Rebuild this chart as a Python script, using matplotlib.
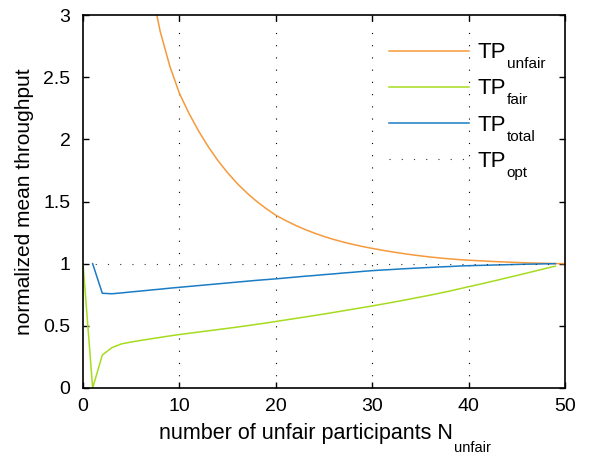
import matplotlib
matplotlib.use("Agg")
import matplotlib.pyplot as plt
from matplotlib.transforms import IdentityTransform
from matplotlib.font_manager import FontProperties

plt.rcParams['font.family'] = ['Liberation Sans', 'DejaVu Sans']

# values
n_unfair = list(range(1, 51))
tp_unfair = [50.0, 12.9, 8.0, 5.8, 4.56, 3.79, 3.25, 2.87, 2.59, 2.37,
             2.208, 2.066, 1.940, 1.829, 1.731, 1.645, 1.569, 1.502, 1.443, 1.390,
             1.348, 1.310, 1.276, 1.246, 1.219, 1.195, 1.174, 1.155, 1.138, 1.123,
             1.109, 1.096, 1.084, 1.073, 1.063, 1.054, 1.046, 1.039, 1.033, 1.028,
             1.024, 1.020, 1.016, 1.013, 1.010, 1.007, 1.005, 1.003, 1.001, 1.0]

n_fair = list(range(0, 50))
tp_fair = [1.0, 0.0, 0.265, 0.325, 0.355, 0.370, 0.383, 0.395, 0.407, 0.419,
           0.430, 0.440, 0.450, 0.460, 0.470, 0.480, 0.490, 0.501, 0.512, 0.523,
           0.535, 0.547, 0.559, 0.571, 0.583, 0.595, 0.608, 0.621, 0.634, 0.647,
           0.660, 0.674, 0.688, 0.702, 0.717, 0.732, 0.747, 0.763, 0.779, 0.797,
           0.815, 0.832, 0.850, 0.868, 0.887, 0.905, 0.924, 0.943, 0.962, 0.980]

n_total = list(range(1, 50))
tp_total = [1.0, 0.762, 0.758, 0.765, 0.773, 0.780, 0.788, 0.795, 0.803, 0.810,
            0.817, 0.824, 0.831, 0.838, 0.845, 0.852, 0.859, 0.866, 0.872, 0.878,
            0.885, 0.892, 0.899, 0.905, 0.912, 0.918, 0.925, 0.931, 0.938, 0.944,
            0.949, 0.953, 0.958, 0.962, 0.966, 0.970, 0.974, 0.977, 0.981, 0.984,
            0.986, 0.988, 0.990, 0.992, 0.994, 0.996, 0.997, 0.999, 1.0]

opt_x = [0, 50]
opt_y = [1, 1]

subs = ['unfair', 'fair', 'total', 'opt']

fig = plt.figure(figsize=(5.9, 4.57), dpi=100)
ax = fig.add_axes([0.1407, 0.151, 0.817, 0.816])

dots = (0, (1, 10))
for gx in [10, 20, 30, 40]:
    ax.axvline(gx, color='k', lw=0.8, linestyle=dots, zorder=0)

ax.plot(n_unfair, tp_unfair, color='#F59A3C', lw=1.1, label='TP')
ax.plot(n_fair, tp_fair, color='#A6DC1E', lw=1.1, label='TP')
ax.plot(n_total, tp_total, color='#1A7CC4', lw=1.1, label='TP')
ax.plot(opt_x, opt_y, color='#333333', lw=0.8, linestyle=dots, label='TP')

ax.set_xlim(0, 50)
ax.set_ylim(0, 3)
ax.set_xticks([0, 10, 20, 30, 40, 50])
ax.set_yticks([0, 0.5, 1, 1.5, 2, 2.5, 3])
ax.set_yticklabels(['0', '0.5', '1', '1.5', '2', '2.5', '3'])
ax.tick_params(direction='in', top=True, right=True, labelsize=14, length=4, width=1)
ax.tick_params(axis='x', pad=7)
ax.tick_params(axis='y', pad=9)
for s in ax.spines.values():
    s.set_linewidth(1.2)

ax.set_xlabel('number of unfair participants N', fontsize=15.5, labelpad=6)
ax.set_ylabel('normalized mean throughput', fontsize=15, labelpad=7)

leg = ax.legend(loc='upper left', bbox_to_anchor=(0.635, 0.927), frameon=False,
                fontsize=16, handlelength=3.6, labelspacing=0.68, handletextpad=0.36,
                borderpad=0, borderaxespad=0)

# MATLAB-like subscripts, placed below the baseline of each text
fig.canvas.draw()
r = fig.canvas.get_renderer()


def baseline(txt):
    bb = txt.get_window_extent(r)
    _, _, d = r.get_text_width_height_descent('lp', txt.get_fontproperties(), ismath=False)
    return bb, bb.y0 + d


# shift x label so label plus subscript are centred
xsub_size = 10.5
w_sub, _, _ = r.get_text_width_height_descent('unfair', FontProperties(family='Liberation Sans', size=xsub_size), ismath=False)
ax_w = ax.get_window_extent(r).width
ax.xaxis.label.set_x(0.5 - (w_sub / 2) / ax_w)
fig.canvas.draw()

bb, base = baseline(ax.xaxis.label)
fig.text(bb.x1 + 1, base - 13, 'unfair', fontsize=xsub_size, transform=IdentityTransform(),
         ha='left', va='baseline')

for t, s in zip(leg.get_texts(), subs):
    bb, base = baseline(t)
    fig.text(bb.x1 + 1, base - 10, s, fontsize=11, transform=IdentityTransform(),
             ha='left', va='baseline')

fig.savefig('out.png', dpi=100)
